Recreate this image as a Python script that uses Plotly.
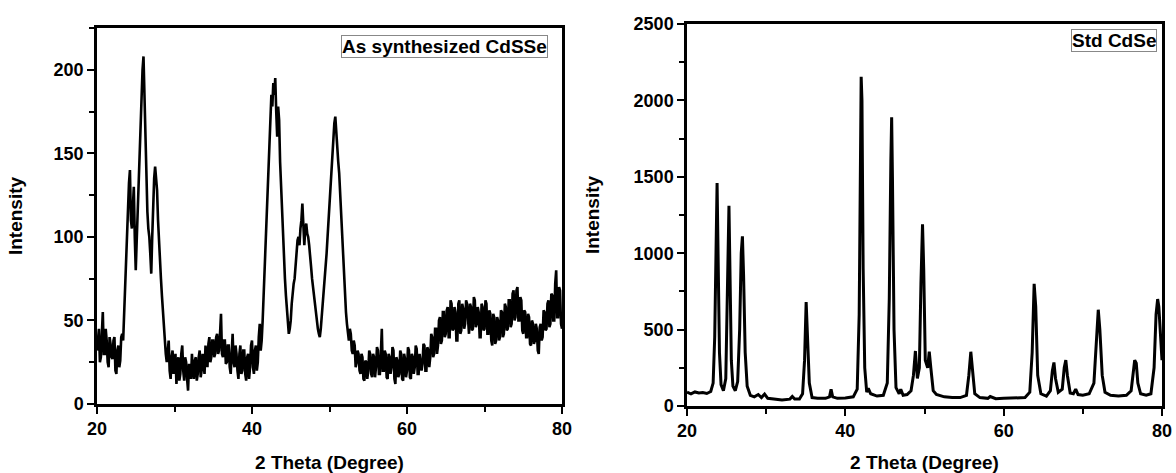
import numpy as np
import plotly.graph_objects as go

# ---- Left panel: As synthesized CdSSe (2theta from 20 to 80, step 0.125) ----
cdsse_start = 20.0
cdsse_step = 0.125
cdsse_intensity = [
    32, 40, 45, 25, 28, 42, 55, 30,      # 20
    30, 45, 38, 25, 22, 40, 36, 28,      # 21
    27, 38, 40, 20, 18, 32, 35, 22,      # 22
    26, 40, 42, 38, 55, 62, 85, 95,      # 23
    118, 132, 140, 110, 105, 125, 130, 100,   # 24
    80, 98, 115, 135, 150, 170, 190, 200,     # 25
    208, 185, 160, 130, 115, 105, 100, 90,    # 26
    78, 100, 120, 135, 142, 135, 128, 110,    # 27
    95, 85, 75, 65, 55, 45, 38, 30,      # 28
    25, 35, 38, 20, 15, 28, 32, 18,      # 29
    22, 30, 12, 25, 28, 14, 18, 30,      # 30
    35, 20, 14, 28, 25, 15, 8, 24,       # 31
    22, 15, 30, 20, 15, 26, 28, 14,      # 32
    18, 28, 32, 16, 20, 30, 25, 18,      # 33
    35, 25, 22, 36, 40, 25, 28, 38,      # 34
    38, 28, 30, 40, 42, 30, 32, 42,      # 35
    54, 30, 28, 38, 38, 24, 25, 35,      # 36
    35, 22, 18, 30, 42, 25, 22, 35,      # 37
    30, 20, 15, 30, 35, 18, 20, 32,      # 38
    32, 18, 14, 28, 30, 15, 22, 35,      # 39
    38, 22, 18, 32, 35, 20, 25, 40,      # 40
    48, 32, 38, 50, 65, 75, 90, 105,     # 41
    120, 135, 150, 170, 185, 178, 192, 185,   # 42
    195, 175, 160, 178, 170, 145, 130, 110,   # 43
    95, 85, 75, 65, 55, 48, 42, 45,      # 44
    50, 60, 68, 72, 75, 85, 95, 98,      # 45
    100, 95, 105, 110, 120, 100, 95, 105,     # 46
    108, 102, 100, 95, 90, 82, 75, 70,   # 47
    62, 58, 55, 50, 45, 42, 40, 45,      # 48
    52, 58, 65, 72, 80, 90, 100, 110,    # 49
    120, 132, 145, 155, 160, 168, 172, 162,   # 50
    150, 145, 138, 125, 110, 98, 85, 72,      # 51
    62, 55, 48, 40, 38, 45, 42, 32,      # 52
    30, 38, 35, 22, 25, 32, 30, 20,      # 53
    18, 30, 28, 15, 14, 26, 25, 15,      # 54
    20, 32, 30, 18, 16, 30, 28, 16,      # 55
    22, 34, 32, 18, 18, 30, 45, 20,      # 56
    20, 32, 30, 16, 15, 30, 28, 18,      # 57
    22, 34, 32, 15, 12, 28, 26, 16,      # 58
    18, 32, 30, 15, 14, 30, 27, 16,      # 59
    20, 34, 32, 16, 15, 30, 28, 18,      # 60
    22, 35, 33, 18, 18, 30, 26, 20,      # 61
    24, 36, 35, 20, 20, 34, 32, 22,      # 62
    28, 42, 40, 28, 30, 45, 45, 30,      # 63
    35, 50, 52, 36, 38, 55, 55, 40,      # 64
    42, 56, 58, 40, 40, 62, 60, 44,      # 65
    45, 58, 55, 38, 38, 60, 62, 42,      # 66
    44, 60, 57, 45, 48, 62, 60, 46,      # 67
    42, 60, 58, 44, 45, 64, 62, 46,      # 68
    48, 58, 55, 40, 40, 60, 58, 44,      # 69
    45, 62, 60, 42, 42, 56, 54, 38,      # 70
    35, 54, 52, 36, 38, 52, 50, 38,      # 71
    40, 56, 55, 40, 42, 60, 58, 44,      # 72
    45, 62, 62, 46, 48, 66, 68, 50,      # 73
    52, 68, 70, 50, 50, 64, 62, 44,      # 74
    42, 56, 55, 40, 40, 54, 52, 36,      # 75
    35, 50, 48, 36, 38, 48, 45, 32,      # 76
    30, 46, 48, 38, 40, 56, 55, 44,      # 77
    45, 60, 62, 46, 48, 66, 65, 50,      # 78
    50, 72, 80, 52, 52, 70, 68, 48,      # 79
    45,                                  # 80
]
cdsse_theta = cdsse_start + cdsse_step * np.arange(len(cdsse_intensity))

# ---- Right panel: Std CdSe ----
std_theta = [
    20.0, 20.5, 21.0, 21.5, 22.0, 22.5, 23.0, 23.3, 23.5, 23.65, 23.8, 23.95, 24.1, 24.3,
    24.6, 24.9, 25.05, 25.2, 25.3, 25.45, 25.6, 25.8, 26.1, 26.4, 26.65, 26.85, 27.0, 27.15,
    27.35, 27.6, 28.0, 28.5, 29.0, 29.4, 29.8, 30.2, 31.0, 32.0, 33.0, 33.3, 33.6, 34.2,
    34.6, 34.85, 35.05, 35.25, 35.45, 35.8, 36.5, 37.5, 38.0, 38.2, 38.4, 39.0, 40.0, 41.0,
    41.5, 41.75, 41.9, 42.0, 42.1, 42.25, 42.45, 42.7, 42.9, 43.2, 44.0, 44.8, 45.3, 45.55,
    45.75, 45.85, 45.95, 46.15, 46.4, 46.8, 47.0, 47.3, 47.8, 48.3, 48.6, 48.85, 49.1, 49.35,
    49.55, 49.75, 49.9, 50.1, 50.4, 50.6, 50.8, 51.1, 51.5, 52.0, 52.5, 53.5, 54.5, 55.3,
    55.6, 55.85, 56.05, 56.35, 57.0, 58.0, 58.3, 59.0, 60.0, 61.0, 62.0, 62.7, 63.3, 63.6,
    63.85, 64.05, 64.3, 64.7, 65.4, 65.9, 66.15, 66.35, 66.55, 66.9, 67.4, 67.65, 67.85, 68.05,
    68.4, 68.8, 69.1, 69.4, 70.0, 70.8, 71.4, 71.75, 71.95, 72.15, 72.45, 72.8, 73.5, 74.5,
    75.5, 76.1, 76.4, 76.55, 76.75, 76.95, 77.3, 78.0, 78.6, 79.0, 79.25, 79.45, 79.6, 79.8,
    80.0,
]
std_intensity = [
    90, 80, 92, 85, 88, 82, 95, 150, 450, 1000, 1460, 900, 350, 140,
    100, 180, 600, 1150, 1310, 800, 300, 130, 100, 160, 500, 1000, 1110, 850,
    350, 130, 70, 60, 75, 55, 78, 50, 45, 40, 45, 62, 45, 45,
    80, 300, 680, 450, 150, 55, 50, 50, 60, 110, 60, 50, 52, 60,
    110, 600, 1700, 2155, 2000, 900, 250, 90, 115, 80, 65, 70, 150, 700,
    1600, 1890, 1500, 500, 120, 80, 110, 70, 75, 100, 200, 360, 180, 250,
    800, 1190, 900, 300, 250, 355, 250, 100, 75, 65, 60, 55, 55, 70,
    200, 355, 250, 80, 55, 50, 62, 48, 50, 52, 55, 55, 90, 350,
    800, 650, 200, 80, 65, 100, 230, 285, 180, 90, 110, 250, 300, 200,
    85, 80, 110, 75, 70, 80, 150, 450, 630, 500, 200, 90, 70, 65,
    70, 100, 250, 300, 280, 150, 80, 70, 80, 250, 600, 700, 650, 450,
    300,
]

x_ticks = [20, 40, 60, 80]
left_y_ticks = [0, 50, 100, 150, 200]
right_y_ticks = [0, 500, 1000, 1500, 2000, 2500]

FONT = "Liberation Sans, Arial, sans-serif"
W, H = 1176, 473

fig = go.Figure()
fig.add_trace(go.Scatter(x=cdsse_theta, y=cdsse_intensity, mode="lines",
                         line=dict(color="black", width=2.6), xaxis="x", yaxis="y",
                         showlegend=False))
fig.add_trace(go.Scatter(x=std_theta, y=std_intensity, mode="lines",
                         line=dict(color="black", width=3), xaxis="x2", yaxis="y2",
                         showlegend=False))

tickfont = dict(family=FONT, size=18, color="black", weight="bold")
titlefont = dict(family=FONT, size=19, color="black", weight="bold")

def xaxis(domain, anchor):
    return dict(domain=domain, anchor=anchor, range=[20, 80], tickvals=x_ticks,
                showline=True, linewidth=2.5, linecolor="black", mirror=True,
                ticks="outside", ticklen=7, tickwidth=2, tickcolor="black",
                minor=dict(dtick=10, tick0=20, ticks="outside", ticklen=5, tickwidth=2, tickcolor="black"),
                showgrid=False, zeroline=False, tickfont=tickfont, automargin=False,
                title=dict(text="2 Theta (Degree)", font=titlefont, standoff=18))

def yaxis(domain, anchor, rng, vals, minor_dtick, standoff):
    return dict(domain=domain, anchor=anchor, range=rng, tickvals=vals,
                showline=True, linewidth=2.5, linecolor="black", mirror=True,
                ticks="outside", ticklen=7, tickwidth=2, tickcolor="black",
                minor=dict(dtick=minor_dtick, tick0=0, ticks="outside", ticklen=5, tickwidth=2, tickcolor="black"),
                showgrid=False, zeroline=False, tickfont=tickfont, automargin=False,
                title=dict(text="Intensity", font=titlefont, standoff=standoff))

fig.update_layout(
    width=W, height=H,
    margin=dict(l=0, r=0, t=0, b=0, autoexpand=False),
    paper_bgcolor="white", plot_bgcolor="white",
    xaxis=xaxis([97 / W, 562 / W], "y"),
    yaxis=yaxis([1 - 404 / H, 1 - 28 / H], "x", [0, 225], left_y_ticks, 25, 26),
    xaxis2=xaxis([687 / W, 1162 / W], "y2"),
    yaxis2=yaxis([1 - 406 / H, 1 - 24 / H], "x2", [0, 2500], right_y_ticks, 250, 29),
    annotations=[
        dict(text="As synthesized CdSSe", xref="paper", yref="paper",
             x=548 / W, y=1 - 35 / H, xanchor="right", yanchor="top", showarrow=False,
             font=dict(family=FONT, size=19, color="black", weight="bold"),
             bordercolor="#888888", borderwidth=1, borderpad=0, bgcolor="white"),
        dict(text="Std CdSe", xref="paper", yref="paper",
             x=1157 / W, y=1 - 29 / H, xanchor="right", yanchor="top", showarrow=False,
             font=dict(family=FONT, size=19, color="black", weight="bold"),
             bordercolor="#888888", borderwidth=1, borderpad=0, bgcolor="white"),
    ],
)

fig.write_html("out.html", config={"displayModeBar": False},
               post_script="document.body.style.margin='0';document.body.style.overflow='hidden';")
